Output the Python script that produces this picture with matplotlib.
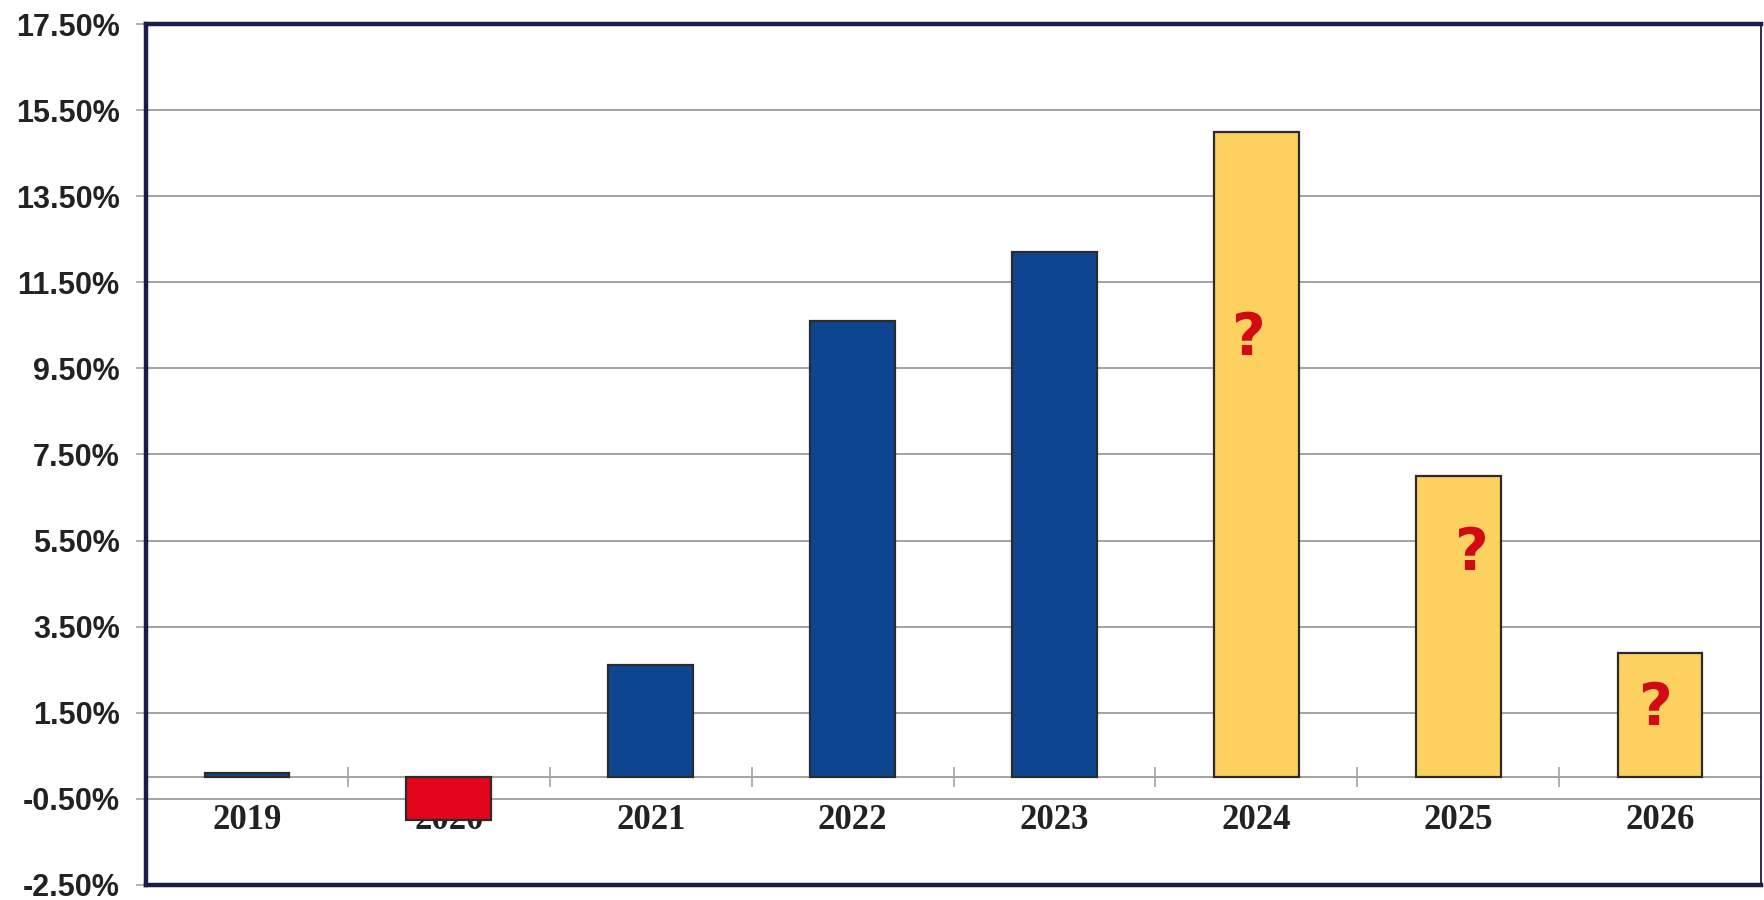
import matplotlib
matplotlib.use("Agg")
import matplotlib.pyplot as plt
import numpy as np

# annual change, in percent
years = ["2019", "2020", "2021", "2022", "2023", "2024", "2025", "2026"]
values = [0.1, -1.0, 2.6, 10.6, 12.2, 15.0, 7.0, 2.9]
bar_colors = ["#0e4590", "#e3051b", "#0e4590", "#0e4590", "#0e4590",
              "#fcd160", "#fcd160", "#fcd160"]

# forecast years get a question mark inside the bar
q_years = ["2024", "2025", "2026"]
q_heights = [10.2, 5.2, 1.6]
q_shift = [-0.035, 0.07, -0.02]

y_ticks = [-2.5, -0.5, 1.5, 3.5, 5.5, 7.5, 9.5, 11.5, 13.5, 15.5, 17.5]

frame = "#1c1c4a"
grid = "#a3a3a3"

fig = plt.figure(figsize=(17.64, 9), dpi=100)
ax = fig.add_axes([0.0828, 0.0167, 0.9155, 0.9566])

x = np.arange(len(years))
ax.bar(x, values, width=0.42, color=bar_colors, edgecolor="#2b2b2b",
       linewidth=1.6, zorder=3)

for yr, h, dx in zip(q_years, q_heights, q_shift):
    i = years.index(yr)
    ax.text(i + dx, h, "?", color="#d10a14", fontsize=42, fontweight="bold",
            family="DejaVu Sans", ha="center", va="center", zorder=4)

ax.set_xlim(-0.5, len(years) - 0.5)
ax.set_ylim(y_ticks[0], y_ticks[-1])
ax.set_xticks([])
ax.set_yticks(y_ticks)
ax.set_yticklabels([f"{t:.2f}%" for t in y_ticks], fontsize=22,
                   fontweight="bold", family="Liberation Sans", color="#222222")
ax.tick_params(axis="y", length=7, width=1.2, color=grid, pad=12)
ax.yaxis.grid(True, color=grid, linewidth=1.4)
ax.set_axisbelow(True)

for side in ["left", "top", "bottom"]:
    ax.spines[side].set_color(frame)
    ax.spines[side].set_linewidth(3.2)
ax.spines["right"].set_color(frame)
ax.spines["right"].set_linewidth(1.3)

# category axis sits on the zero line
cat = ax.secondary_xaxis(0, transform=ax.transData)
cat.set_xticks(x)
cat.set_xticklabels(years, fontsize=25, fontweight="bold",
                    family="Liberation Serif", color="#222222")
cat.set_xticks(x[:-1] + 0.5, minor=True)
cat.tick_params(axis="x", which="major", length=0, pad=19)
cat.tick_params(axis="x", which="minor", direction="inout", length=14,
                width=1.2, color=grid)
cat.spines["bottom"].set_color(grid)
cat.spines["bottom"].set_linewidth(1.4)
cat.set_zorder(0.5)

fig.savefig("out.png", dpi=100)
